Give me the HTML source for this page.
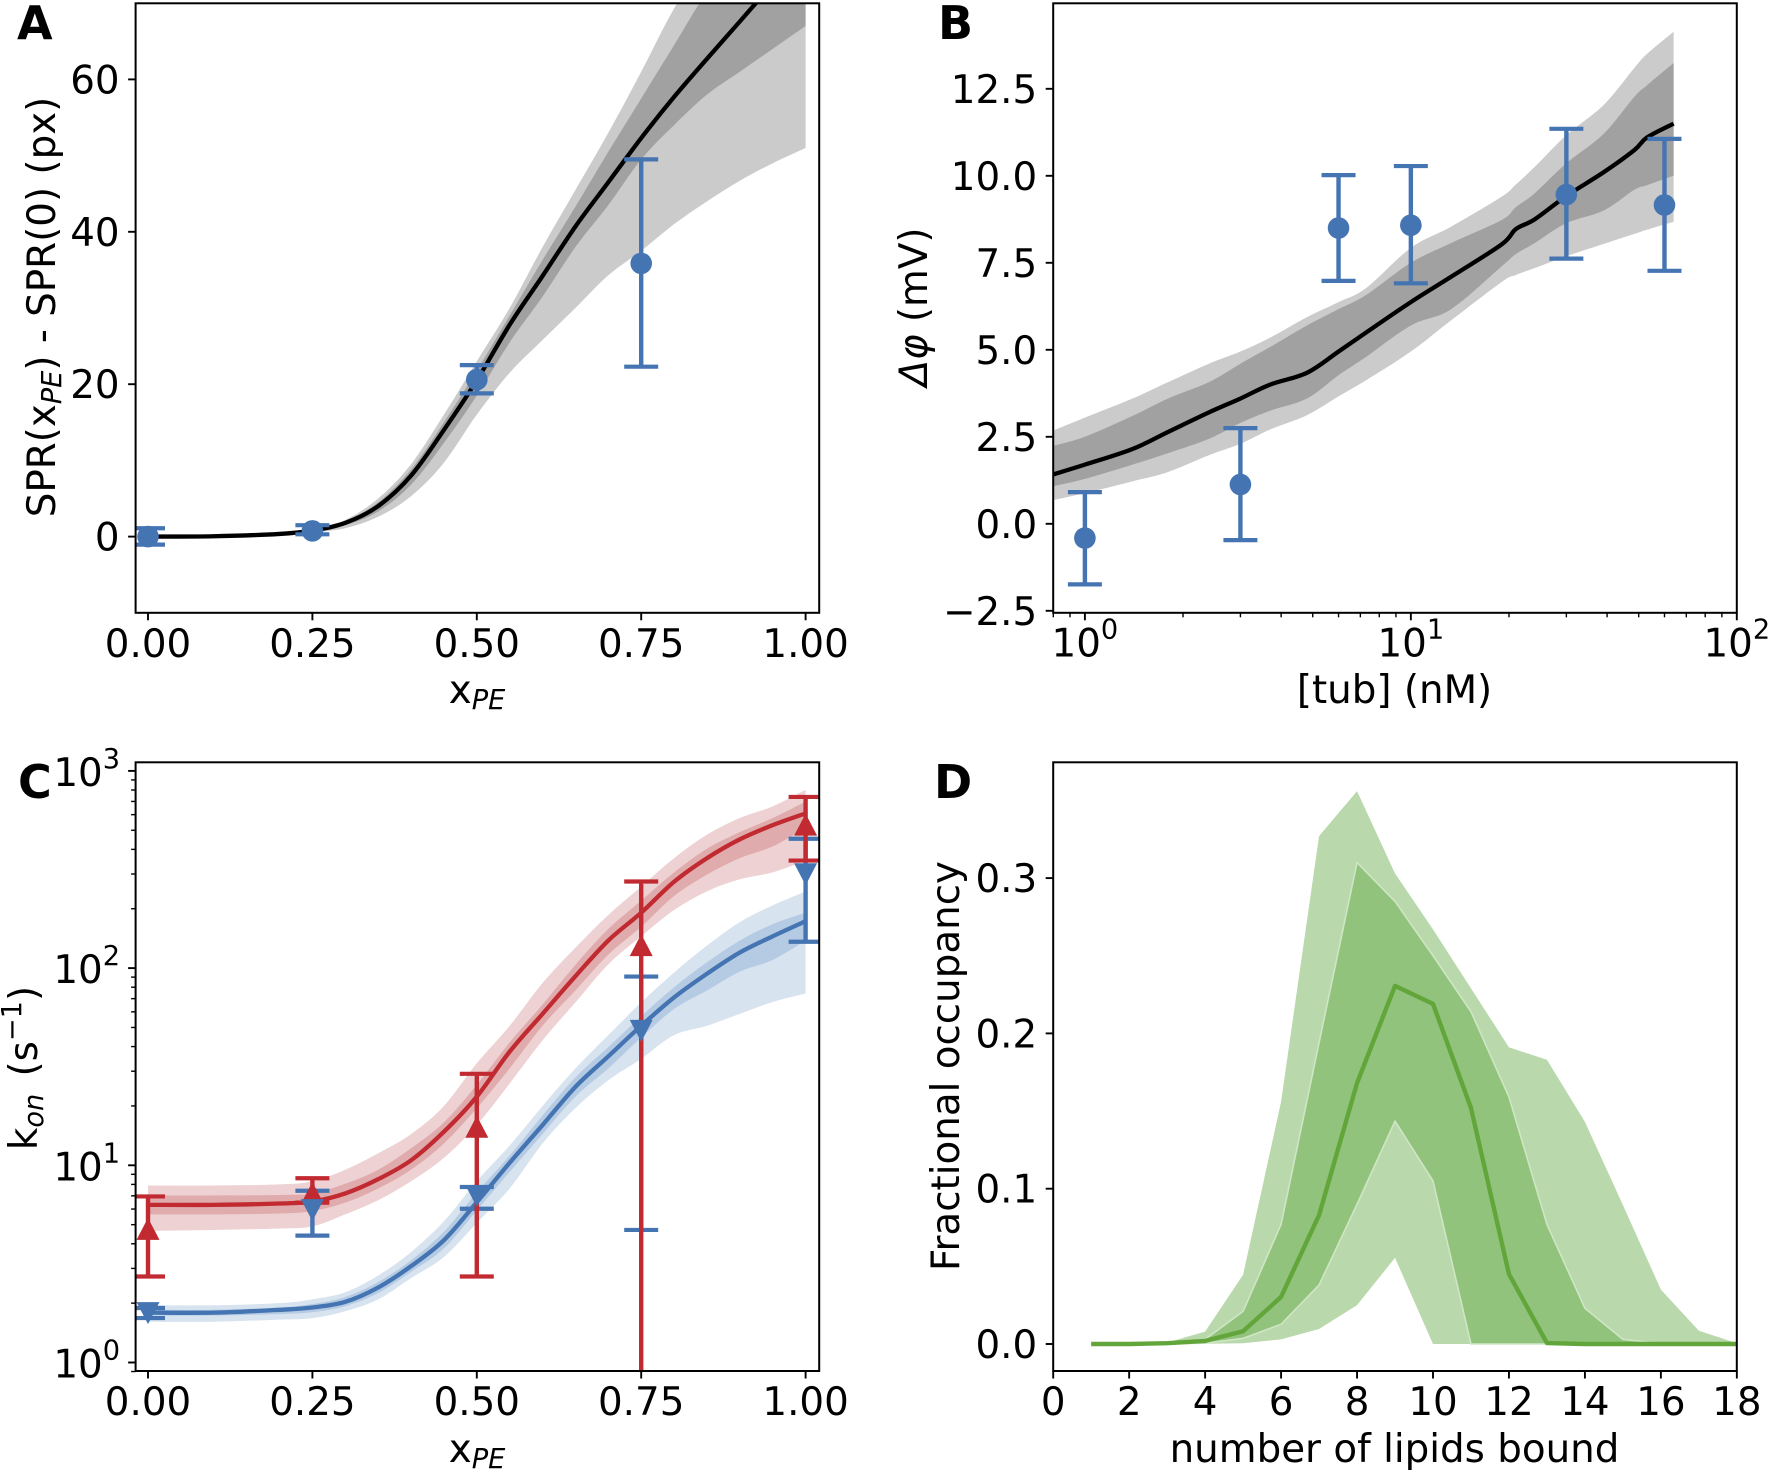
<!DOCTYPE html>
<html lang="en">
<head>
<meta charset="utf-8">
<title>Four panel figure</title>
<style>
html,body{margin:0;padding:0;background:#fff;}
svg{display:block;}
text{font-family:"DejaVu Sans","Liberation Sans",sans-serif;fill:#000;}
</style>
</head>
<body>
<svg id="fig" xmlns="http://www.w3.org/2000/svg" width="1772" height="1473" viewBox="0 0 1772 1473">
  <defs>
    <clipPath id="clip-a"><rect x="135.6" y="3.3" width="683.6" height="609.5"/></clipPath>
    <clipPath id="clip-b"><rect x="1053.2" y="3.3" width="683.6" height="609.5"/></clipPath>
    <clipPath id="clip-c"><rect x="135.6" y="762.3" width="683.6" height="608.7"/></clipPath>
    <clipPath id="clip-d"><rect x="1053.2" y="762.3" width="683.6" height="608.7"/></clipPath>
  </defs>
  <rect x="0" y="0" width="1772" height="1473" fill="#fff"/>

  <g id="panel-a">
    <g id="marks-a" clip-path="url(#clip-a)"></g>
    <rect x="135.6" y="3.3" width="683.6" height="609.5" fill="none" stroke="#000" stroke-width="2"/>
    <g id="axes-a"></g>
    <text x="17" y="39" font-size="46" font-weight="bold">A</text>
    <text x="477" y="703" font-size="38.8" text-anchor="middle">x<tspan font-style="italic" font-size="27.2" dy="6">PE</tspan></text>
    <text transform="translate(55,307) rotate(-90)" font-size="38.8" text-anchor="middle">SPR(x<tspan font-style="italic" font-size="27.2" dy="6">PE</tspan><tspan dy="-6">) - SPR(0) (px)</tspan></text>
  </g>

  <g id="panel-b">
    <g id="marks-b" clip-path="url(#clip-b)"></g>
    <rect x="1053.2" y="3.3" width="683.6" height="609.5" fill="none" stroke="#000" stroke-width="2"/>
    <g id="axes-b"></g>
    <text x="938" y="39" font-size="46" font-weight="bold">B</text>
    <text x="1394.5" y="703" font-size="38.8" text-anchor="middle">[tub] (nM)</text>
    <text transform="translate(927,307) rotate(-90)" font-size="38.8" text-anchor="middle"><tspan font-style="italic">Δφ</tspan> (mV)</text>
  </g>

  <g id="panel-c">
    <g id="marks-c" clip-path="url(#clip-c)"></g>
    <rect x="135.6" y="762.3" width="683.6" height="608.7" fill="none" stroke="#000" stroke-width="2"/>
    <g id="axes-c"></g>
    <text x="18" y="798" font-size="46" font-weight="bold">C</text>
    <text x="477" y="1462" font-size="38.8" text-anchor="middle">x<tspan font-style="italic" font-size="27.2" dy="6">PE</tspan></text>
    <text transform="translate(37,1068) rotate(-90)" font-size="38.8" text-anchor="middle">k<tspan font-style="italic" font-size="27.2" dy="6">on</tspan><tspan dy="-6" dx="5"> (s</tspan><tspan font-size="27.2" dy="-16">−1</tspan><tspan dy="16">)</tspan></text>
  </g>

  <g id="panel-d">
    <g id="marks-d" clip-path="url(#clip-d)"></g>
    <rect x="1053.2" y="762.3" width="683.6" height="608.7" fill="none" stroke="#000" stroke-width="2"/>
    <g id="axes-d"></g>
    <text x="934" y="798" font-size="46" font-weight="bold">D</text>
    <text x="1394.5" y="1462" font-size="38.8" text-anchor="middle">number of lipids bound</text>
    <text transform="translate(959,1066) rotate(-90)" font-size="38.8" text-anchor="middle">Fractional occupancy</text>
  </g>
</svg>

<script>
// ---------- Panel A data ----------
const aX = [0, .1, .2, .25, .3, .35, .4, .45, .5, .55, .6, .65, .7, .75, .8, .85, .9, .95, 1];
const aMedian = [0, .05, .35, .8, 1.8, 4, 8, 14, 20.5, 27.8, 34.2, 40.7, 46.5, 52.3, 57.7, 62.7, 67.6, 72.5, 77];
const aOuterUpper = [0, .05, .4, .95, 2.2, 5, 9.5, 16, 23, 30, 38, 45.5, 53, 61, 69.3, 76, 83, 90, 97];
const aInnerUpper = [0, .05, .38, .9, 2, 4.5, 8.8, 15, 21.8, 29, 36.3, 43.3, 50.5, 57.5, 64.5, 71.5, 77, 83, 89];
const aInnerLower = [0, .05, .3, .7, 1.5, 3.3, 6.8, 12.3, 18.5, 25.5, 31.5, 38, 43.5, 49.5, 54, 58, 61, 64, 67];
const aOuterLower = [0, .04, .25, .55, 1.1, 2.6, 5.3, 9.7, 16, 21.5, 25.8, 30, 34.3, 37.5, 41, 44, 46.7, 49, 51];
const aPointX = [0, .25, .5, .75];
const aPointY = [0, .75, 20.6, 35.85];
const aPointUp = [1.1, 1.5, 22.5, 49.5];
const aPointLow = [-1.05, .3, 18.8, 22.3];
const aXTicks = [0, .25, .5, .75, 1];
const aXTickLabels = ['0.00', '0.25', '0.50', '0.75', '1.00'];
const aYTicks = [0, 20, 40, 60];
const aYTickLabels = ['0', '20', '40', '60'];

// ---------- Panel B data ----------
const bX = [.8, 1, 1.4, 1.8, 2.4, 3, 3.7, 4.8, 6, 7.3, 10, 13.3, 19, 21, 24, 30, 39, 48.5, 53, 64];
const bMedian = [1.42, 1.7, 2.15, 2.64, 3.2, 3.6, 4.0, 4.34, 4.95, 5.5, 6.37, 7.1, 8.03, 8.47, 8.75, 9.42, 10.1, 10.74, 11.1, 11.5];
const bOuterUpper = [2.68, 3.05, 3.6, 4.07, 4.6, 4.95, 5.35, 5.94, 6.37, 6.78, 7.93, 8.54, 9.4, 9.75, 10.26, 11.17, 12.03, 13.1, 13.5, 14.14];
const bInnerUpper = [2.24, 2.5, 3.1, 3.6, 4.07, 4.6, 5.08, 5.7, 6.17, 6.58, 7.5, 8.07, 8.73, 9.1, 9.5, 10.36, 11.2, 12.27, 12.6, 13.24];
const bInnerLower = [1.08, 1.29, 1.7, 2.03, 2.44, 2.9, 3.25, 3.6, 4.27, 4.8, 5.7, 6.17, 7.4, 7.75, 8.07, 8.64, 9.0, 9.6, 9.73, 10.0];
const bOuterLower = [.68, .88, 1.22, 1.49, 1.97, 2.3, 2.71, 3.12, 3.66, 4.13, 4.95, 5.85, 6.95, 7.15, 7.35, 7.69, 8.04, 8.33, 8.45, 8.68];
const bPointX = [1, 3, 6, 10, 30, 60];
const bPointY = [-.41, 1.13, 8.5, 8.58, 9.46, 9.16];
const bPointUp = [.91, 2.75, 10.02, 10.28, 11.35, 11.06];
const bPointLow = [-1.74, -.47, 6.98, 6.91, 7.62, 7.27];
const bXTicks = [1, 10, 100];
const bXTickExponents = ['0', '1', '2'];
const bYTicks = [-2.5, 0, 2.5, 5, 7.5, 10, 12.5];
const bYTickLabels = ['−2.5', '0.0', '2.5', '5.0', '7.5', '10.0', '12.5'];

// ---------- Panel C data ----------
const cX = [0, .1, .2, .25, .3, .35, .4, .45, .5, .55, .6, .65, .7, .75, .8, .85, .9, .95, 1];
const cRedMedian = [6.3, 6.3, 6.4, 6.55, 7.2, 8.5, 10.6, 14.8, 22.3, 37.7, 58.6, 91, 138, 191, 274, 361, 450, 531, 609];
const cRedOuterUpper = [7.9, 7.9, 8.0, 8.3, 9.5, 11.5, 14.4, 20, 32.9, 51, 84, 127, 186, 259, 361, 475, 577, 661, 802];
const cRedInnerUpper = [7.03, 7.03, 7.07, 7.2, 8.07, 9.5, 12.2, 16.5, 25.6, 42, 65.4, 104, 158, 220, 306, 403, 489, 577, 699];
const cRedInnerLower = [5.64, 5.64, 5.7, 5.86, 6.47, 7.63, 9.5, 12.9, 19.5, 31, 51, 77, 117, 162, 232, 298, 361, 414, 516];
const cRedOuterLower = [4.65, 4.7, 4.78, 4.9, 5.64, 6.65, 8.3, 10.9, 16, 26, 43, 67, 104.5, 145, 197, 245, 282, 306, 351];
const cBlueMedian = [1.79, 1.79, 1.85, 1.9, 2.03, 2.4, 3.08, 4.17, 6.5, 10.3, 16, 25, 35.7, 51, 71, 93.6, 120, 145, 173];
const cBlueOuterUpper = [1.95, 1.95, 2.0, 2.09, 2.27, 2.76, 3.63, 5.2, 8.3, 12.6, 20, 31, 45.7, 67, 95, 130, 171, 208, 245];
const cBlueInnerUpper = [1.85, 1.85, 1.9, 1.98, 2.15, 2.56, 3.3, 4.6, 7.3, 11.2, 17.9, 27.9, 39.8, 57, 80, 107, 138, 167, 191];
const cBlueInnerLower = [1.73, 1.73, 1.76, 1.8, 1.93, 2.25, 2.88, 3.79, 5.9, 9.26, 14.4, 22.3, 31, 44.5, 62, 77, 96, 110, 138];
const cBlueOuterLower = [1.61, 1.61, 1.65, 1.68, 1.82, 2.09, 2.68, 3.43, 5.1, 7.63, 12.9, 19.5, 27, 34.7, 45.7, 51, 58.6, 67.3, 74.3];
const cPointX = [0, .25, .5, .75, 1];
const cRedPointY = [4.73, 7.2, 15.6, 130, 531];
const cRedPointUp = [6.95, 8.6, 29.1, 275, 738];
const cRedPointLow = [2.73, 6.47, 2.73, .5, 351];
const cBluePointY = [1.79, 5.96, 7.03, 48.3, 301];
const cBluePointUp = [1.89, 7.43, 7.76, 90.6, 453];
const cBluePointLow = [1.68, 4.4, 6.02, 4.7, 136];
const cXTicks = [0, .25, .5, .75, 1];
const cXTickLabels = ['0.00', '0.25', '0.50', '0.75', '1.00'];
const cYTicks = [1, 10, 100, 1000];
const cYTickExponents = ['0', '1', '2', '3'];

// ---------- Panel D data ----------
const dX = [1, 2, 3, 4, 5, 6, 7, 8, 9, 10, 11, 12, 13, 14, 15, 16, 17, 18];
const dMedian = [0, 0, .0005, .002, .0082, .0303, .083, .168, .2306, .219, .152, .045, .0006, 0, 0, 0, 0, 0];
const dOuterUpper = [0, 0, .001, .008, .0446, .156, .327, .356, .303, .267, .229, .191, .183, .143, .0895, .035, .0085, .0006];
const dInnerUpper = [0, 0, .0006, .003, .021, .077, .194, .31, .285, .25, .214, .159, .077, .023, .003, .0003, 0, 0];
const dInnerLower = [0, 0, .0001, .0005, .0036, .0127, .038, .09, .1435, .105, 0, 0, 0, 0, 0, 0, 0, 0];
const dOuterLower = [0, 0, 0, .0002, .0005, .003, .0097, .025, .0555, 0, 0, 0, 0, 0, 0, 0, 0, 0];
const dXTicks = [0, 2, 4, 6, 8, 10, 12, 14, 16, 18];
const dXTickLabels = ['0', '2', '4', '6', '8', '10', '12', '14', '16', '18'];
const dYTicks = [0, .1, .2, .3];
const dYTickLabels = ['0.0', '0.1', '0.2', '0.3'];

// ---------- Axis functions ----------
const scaleAX = v => 148 + v * 657.6;
const scaleAY = v => 536.6 - v * 7.62;
const scaleBX = v => 1084.9 + Math.log10(v) * 325.95;
const scaleBY = v => 523.8 - v * 34.8;
const scaleCX = scaleAX;
const scaleCY = v => 1362.5 - Math.log10(v) * 197.2;
const scaleDX = v => 1053.2 + v * 37.98;
const scaleDY = v => 1344 - v * 1553;

const NS = 'http://www.w3.org/2000/svg';
function make(tag, attrs, parent, name) {
  const el = document.createElementNS(NS, tag);
  for (const k in attrs) el.setAttribute(k, attrs[k]);
  
  
  parent.appendChild(el);
  return el;
}
// Segment string through the projected data points; smooth uses Catmull-Rom cubics.
function segments(pts, smooth) {
  let s = '';
  for (let i = 1; i < pts.length; i++) {
    const p1 = pts[i - 1], p2 = pts[i];
    if (smooth) {
      const p0 = pts[Math.max(0, i - 2)], p3 = pts[Math.min(pts.length - 1, i + 1)];
      const c1x = p1[0] + (p2[0] - p0[0]) / 6, c1y = p1[1] + (p2[1] - p0[1]) / 6;
      const c2x = p2[0] - (p3[0] - p1[0]) / 6, c2y = p2[1] - (p3[1] - p1[1]) / 6;
      s += 'C' + [c1x, c1y, c2x, c2y, p2[0], p2[1]].map(n => n.toFixed(2)).join(' ');
    } else {
      s += 'L' + p2[0].toFixed(2) + ' ' + p2[1].toFixed(2);
    }
  }
  return s;
}
function project(xs, ys, fx, fy) {
  return xs.map((x, i) => [fx(x), fy(ys[i])]);
}
function linePath(xs, ys, fx, fy, smooth) {
  const pts = project(xs, ys, fx, fy);
  return 'M' + pts[0][0].toFixed(2) + ' ' + pts[0][1].toFixed(2) + segments(pts, smooth);
}
function bandPath(xs, up, low, fx, fy, smooth) {
  const top = project(xs, up, fx, fy);
  const bot = project(xs, low, fx, fy).reverse();
  return 'M' + top[0][0].toFixed(2) + ' ' + top[0][1].toFixed(2) + segments(top, smooth) +
    'L' + bot[0][0].toFixed(2) + ' ' + bot[0][1].toFixed(2) + segments(bot, smooth) + 'Z';
}
function drawBand(g, xs, up, low, fx, fy, fill, name, smooth, stroke) {
  const attrs = {d: bandPath(xs, up, low, fx, fy, smooth), fill: fill};
  if (stroke) { attrs.stroke = stroke; attrs['stroke-width'] = 1.6; }
  make('path', attrs, g, name);
}
function drawLine(g, xs, ys, fx, fy, color, width, name, smooth) {
  make('path', {d: linePath(xs, ys, fx, fy, smooth), fill: 'none', stroke: color, 'stroke-width': width, 'stroke-linejoin': 'round'}, g, name);
}
function drawErrorLines(g, xs, up, low, fx, fy, color, name) {
  xs.forEach((x, i) => {
    const px = fx(x);
    make('line', {x1: px, x2: px, y1: fy(up[i]), y2: fy(low[i]), stroke: color, 'stroke-width': 4.4}, g, name + '-bar');
    make('line', {x1: px - 17, x2: px + 17, y1: fy(up[i]), y2: fy(up[i]), stroke: color, 'stroke-width': 4.2}, g, name + '-cap-upper');
    make('line', {x1: px - 17, x2: px + 17, y1: fy(low[i]), y2: fy(low[i]), stroke: color, 'stroke-width': 4.2}, g, name + '-cap-lower');
  });
}
function drawCircles(g, xs, ys, fx, fy, color, name) {
  xs.forEach((x, i) => {
    make('circle', {cx: fx(x), cy: fy(ys[i]), r: 10.8, fill: color}, g, name);
  });
}
function drawTriangles(g, xs, ys, fx, fy, color, dir, name) {
  xs.forEach((x, i) => {
    const px = fx(x), py = fy(ys[i]);
    const pts = [[px - 11.5, py + dir * 10.5], [px + 11.5, py + dir * 10.5], [px, py - dir * 11.5]];
    make('polygon', {points: pts.map(p => p[0].toFixed(2) + ',' + p[1].toFixed(2)).join(' '), fill: color}, g, name);
  });
}
function xTick(g, px, axisY, len, name) {
  make('line', {x1: px, x2: px, y1: axisY, y2: axisY + len, stroke: '#000', 'stroke-width': len > 5 ? 1.9 : 1.4}, g, name);
}
function yTick(g, py, axisX, len, name) {
  make('line', {x1: axisX, x2: axisX - len, y1: py, y2: py, stroke: '#000', 'stroke-width': len > 5 ? 1.9 : 1.4}, g, name);
}
function xLabels(g, ticks, labels, fx, axisY, name) {
  ticks.forEach((t, i) => {
    xTick(g, fx(t), axisY, 7.5, name + '-tick');
    const el = make('text', {x: fx(t), y: axisY + 44, 'font-size': 38.8, 'text-anchor': 'middle'}, g, name + '-tick-label');
    el.textContent = labels[i];
  });
}
function yLabels(g, ticks, labels, fy, axisX, name) {
  ticks.forEach((t, i) => {
    yTick(g, fy(t), axisX, 7.5, name + '-tick');
    const el = make('text', {x: axisX - 16, y: fy(t) + 14, 'font-size': 38.8, 'text-anchor': 'end'}, g, name + '-tick-label');
    el.textContent = labels[i];
  });
}
function powerLabel(g, x, y, exponent, anchor, name) {
  const el = make('text', {x: x, y: y, 'font-size': 38.8, 'text-anchor': anchor}, g, name);
  const base = document.createElementNS(NS, 'tspan');
  base.textContent = '10';
  el.appendChild(base);
  const sup = document.createElementNS(NS, 'tspan');
  sup.setAttribute('font-size', '27.2');
  sup.setAttribute('dy', '-18');
  sup.textContent = exponent;
  el.appendChild(sup);
}

// ---------- Colours ----------
const BLUE = '#4574b2', RED = '#c02a30', BLACK = '#000';

// ---------- Panel A ----------
(function () {
  const g = document.getElementById('marks-a'), ax = document.getElementById('axes-a');
  drawBand(g, aX, aOuterUpper, aOuterLower, scaleAX, scaleAY, '#cbcbcb', 'outer-credible-band', true);
  drawBand(g, aX, aInnerUpper, aInnerLower, scaleAX, scaleAY, '#a1a1a1', 'inner-credible-band', true);
  drawLine(g, aX, aMedian, scaleAX, scaleAY, BLACK, 4.3, 'median-line', true);
  drawErrorLines(g, aPointX, aPointUp, aPointLow, scaleAX, scaleAY, BLUE, 'data-error');
  drawCircles(g, aPointX, aPointY, scaleAX, scaleAY, BLUE, 'data-point');
  xLabels(ax, aXTicks, aXTickLabels, scaleAX, 612.8, 'x-axis');
  yLabels(ax, aYTicks, aYTickLabels, scaleAY, 135.6, 'y-axis');
})();

// ---------- Panel B ----------
(function () {
  const g = document.getElementById('marks-b'), ax = document.getElementById('axes-b');
  drawBand(g, bX, bOuterUpper, bOuterLower, scaleBX, scaleBY, '#cbcbcb', 'outer-credible-band', true);
  drawBand(g, bX, bInnerUpper, bInnerLower, scaleBX, scaleBY, '#a1a1a1', 'inner-credible-band', true);
  drawLine(g, bX, bMedian, scaleBX, scaleBY, BLACK, 4.3, 'median-line', true);
  drawErrorLines(g, bPointX, bPointUp, bPointLow, scaleBX, scaleBY, BLUE, 'data-error');
  drawCircles(g, bPointX, bPointY, scaleBX, scaleBY, BLUE, 'data-point');
  bXTicks.forEach((t, i) => {
    xTick(ax, scaleBX(t), 612.8, 7.5, 'x-axis-tick');
    powerLabel(ax, scaleBX(t), 656.5, bXTickExponents[i], 'middle', 'x-axis-tick-label');
  });
  [.8, .9, 2, 3, 4, 5, 6, 7, 8, 9, 20, 30, 40, 50, 60, 70, 80, 90].forEach(t => {
    xTick(ax, scaleBX(t), 612.8, 4.5, 'x-axis-minor-tick');
  });
  yLabels(ax, bYTicks, bYTickLabels, scaleBY, 1053.2, 'y-axis');
})();

// ---------- Panel C ----------
(function () {
  const g = document.getElementById('marks-c'), ax = document.getElementById('axes-c');
  drawBand(g, cX, cBlueOuterUpper, cBlueOuterLower, scaleCX, scaleCY, '#d8e3f0', 'blue-outer-band', true);
  drawBand(g, cX, cBlueInnerUpper, cBlueInnerLower, scaleCX, scaleCY, '#b5cbe3', 'blue-inner-band', true);
  drawLine(g, cX, cBlueMedian, scaleCX, scaleCY, BLUE, 4.3, 'blue-median-line', true);
  drawBand(g, cX, cRedOuterUpper, cRedOuterLower, scaleCX, scaleCY, '#eed2d3', 'red-outer-band', true);
  drawBand(g, cX, cRedInnerUpper, cRedInnerLower, scaleCX, scaleCY, '#e0abac', 'red-inner-band', true);
  drawLine(g, cX, cRedMedian, scaleCX, scaleCY, RED, 4.3, 'red-median-line', true);
  drawErrorLines(g, cPointX, cBluePointUp, cBluePointLow, scaleCX, scaleCY, BLUE, 'blue-data-error');
  drawErrorLines(g, cPointX, cRedPointUp, cRedPointLow, scaleCX, scaleCY, RED, 'red-data-error');
  drawTriangles(g, cPointX, cRedPointY, scaleCX, scaleCY, RED, 1, 'red-data-point');
  drawTriangles(g, cPointX, cBluePointY, scaleCX, scaleCY, BLUE, -1, 'blue-data-point');
  xLabels(ax, cXTicks, cXTickLabels, scaleCX, 1371, 'x-axis');
  cYTicks.forEach((t, i) => {
    yTick(ax, scaleCY(t), 135.6, 7.5, 'y-axis-tick');
    powerLabel(ax, 120, scaleCY(t) + 15, cYTickExponents[i], 'end', 'y-axis-tick-label');
  });
  cYTicks.slice(0, 3).forEach(d => {
    [2, 3, 4, 5, 6, 7, 8, 9].forEach(m => {
      yTick(ax, scaleCY(d * m), 135.6, 4.5, 'y-axis-minor-tick');
    });
  });
  yTick(ax, scaleCY(.9), 135.6, 4.5, 'y-axis-minor-tick');
})();

// ---------- Panel D ----------
(function () {
  const g = document.getElementById('marks-d'), ax = document.getElementById('axes-d');
  drawBand(g, dX, dOuterUpper, dOuterLower, scaleDX, scaleDY, '#b9d8ab', 'outer-credible-band', false);
  drawBand(g, dX, dInnerUpper, dInnerLower, scaleDX, scaleDY, '#92c37d', 'inner-credible-band', false, '#cfe6c5');
  drawLine(g, dX, dMedian, scaleDX, scaleDY, '#62a63b', 4.4, 'median-line', false);
  xLabels(ax, dXTicks, dXTickLabels, scaleDX, 1371, 'x-axis');
  yLabels(ax, dYTicks, dYTickLabels, scaleDY, 1053.2, 'y-axis');
})();
</script>
</body>
</html>
